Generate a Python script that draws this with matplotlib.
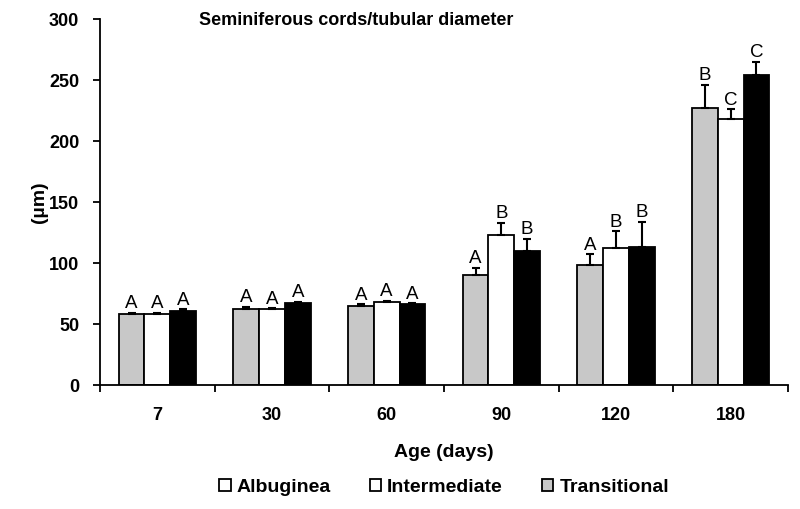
import matplotlib
matplotlib.use("Agg")
import matplotlib.pyplot as plt
import numpy as np
from matplotlib.patches import Patch

plt.rcParams["font.family"] = ["Liberation Sans", "DejaVu Sans"]

ages = ["7", "30", "60", "90", "120", "180"]
transitional = [58, 62, 65, 90, 98, 227]
intermediate = [58, 62, 68, 123, 112, 218]
albuginea = [61, 67, 66, 110, 113, 254]
err_trans = [1, 2, 1, 6, 9, 19]
err_inter = [1, 1, 1, 10, 14, 8]
err_alb = [1, 1, 1, 10, 21, 11]
let_trans = ["A", "A", "A", "A", "A", "B"]
let_inter = ["A", "A", "A", "B", "B", "C"]
let_alb = ["A", "A", "A", "B", "B", "C"]

fig = plt.figure(figsize=(8, 5.09), dpi=100)
ax = fig.add_axes([0.125, 0.2436, 0.86, 0.719])

x = np.arange(len(ages))
w = 0.225
series = [
    (transitional, err_trans, let_trans, "#c8c8c8", -w),
    (intermediate, err_inter, let_inter, "white", 0.0),
    (albuginea, err_alb, let_alb, "black", w),
]
for vals, errs, lets, col, off in series:
    ax.bar(x + off, vals, width=w, color=col, edgecolor="black", linewidth=1.3, zorder=2)
    ax.errorbar(x + off, vals, yerr=[np.zeros(len(vals)), errs], fmt="none",
                ecolor="black", elinewidth=1.5, capsize=3, capthick=1.5, zorder=3)
    for xi, v, e, l in zip(x + off, vals, errs, lets):
        ax.text(xi, v + e + 0.5, l, ha="center", va="bottom", fontsize=13.5, zorder=4)

ax.set_xlim(-0.5, len(ages) - 0.5)
ax.set_ylim(0, 300)
ax.set_yticks(range(0, 301, 50))
ax.set_xticks(x)
ax.set_xticklabels(ages)
ax.set_xticks(np.arange(-0.5, len(ages)), minor=True)
ax.tick_params(axis="x", which="major", length=0, pad=16, labelsize=13)
ax.tick_params(axis="x", which="minor", length=5, width=1.3, direction="out")
ax.tick_params(axis="y", length=5, width=1.3, direction="out", labelsize=13, pad=10)
for lab in ax.get_xticklabels() + ax.get_yticklabels():
    lab.set_fontweight("bold")
for s in ["top", "right"]:
    ax.spines[s].set_visible(False)
for s in ["left", "bottom"]:
    ax.spines[s].set_linewidth(1.3)

ax.set_ylabel("(µm)", fontsize=14, fontweight="bold", labelpad=1)
ax.set_xlabel("Age (days)", fontsize=14, fontweight="bold", labelpad=14)
ax.text(0.373, 1.02, "Seminiferous cords/tubular diameter", transform=ax.transAxes,
        ha="center", va="top", fontsize=13, fontweight="bold")

handles = [Patch(facecolor="white", edgecolor="black", linewidth=1.3),
           Patch(facecolor="white", edgecolor="black", linewidth=1.3),
           Patch(facecolor="#c8c8c8", edgecolor="black", linewidth=1.3)]
leg = fig.legend(handles, ["Albuginea", "Intermediate", "Transitional"], loc="center",
                 bbox_to_anchor=(0.555, 0.043), ncol=3, frameon=False,
                 prop={"size": 14, "weight": "bold"}, handlelength=0.6, handleheight=0.6,
                 handletextpad=0.3, columnspacing=2.0)

fig.savefig("out.png", dpi=100)
